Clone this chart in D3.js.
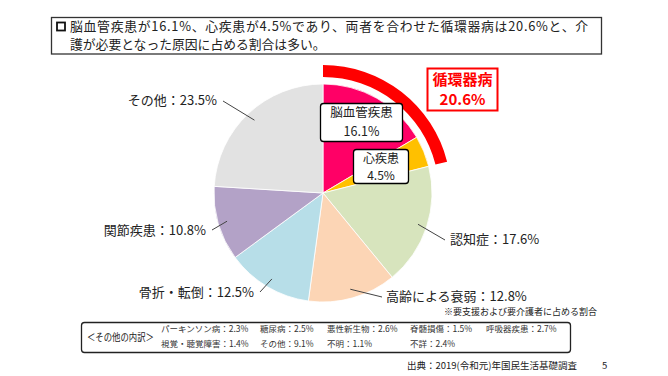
<!DOCTYPE html>
<html>
<head>
<meta charset="utf-8">
<script src="https://cdn.jsdelivr.net/npm/d3@7"></script>
<style>
  body { margin: 0; background: #fff; }
  svg { display: block; font-family: "Noto Sans CJK JP", "Noto Sans", sans-serif; }
</style>
</head>
<body>
<div id="chart"></div>
<script>
// data
var categories = ['脳血管疾患', '心疾患', '認知症', '高齢による衰弱', '骨折・転倒', '関節疾患', 'その他'];
var values = [16.1, 4.5, 17.6, 12.8, 12.5, 10.8, 23.5];
var colors = ['#FF0066', '#FFC000', '#D7E4BD', '#FCD5B5', '#B7DEE8', '#B3A2C7', '#E2E2E2'];
var groupName = '循環器病';
var groupValue = 20.6;
var groupMembers = 2; // first two slices
var otherNames = ['パーキンソン病', '糖尿病', '悪性新生物', '脊髄損傷', '呼吸器疾患', '視覚・聴覚障害', 'その他', '不明', '不詳'];
var otherValues = [2.3, 2.5, 2.6, 1.5, 2.7, 1.4, 9.1, 1.1, 2.4];

var w = 668, h = 376;
var cx = 323, cy = 193, r = 109;

var svg = d3.select('#chart').append('svg').attr('width', w).attr('height', h);

// header box
svg.append('rect').attr('x', 51.5).attr('y', 17.5).attr('width', 550).attr('height', 36.5)
  .attr('fill', '#fff').attr('stroke', '#333').attr('stroke-width', 1.3);
svg.append('rect').attr('x', 57).attr('y', 22.5).attr('width', 8).attr('height', 8)
  .attr('fill', 'none').attr('stroke', '#111').attr('stroke-width', 1.8);
var title = svg.append('text').attr('font-size', 12.8).attr('fill', '#222');
title.append('tspan').attr('x', 70).attr('y', 30.5)
  .attr('textLength', 518).attr('lengthAdjust', 'spacing')
  .text('脳血管疾患が' + values[0] + '%、心疾患が' + values[1] + '%であり、両者を合わせた' + groupName + 'は' + groupValue + '%と、介');
title.append('tspan').attr('x', 70).attr('y', 49)
  .text('護が必要となった原因に占める割合は多い。');

// pie
var pie = d3.pie().sort(null).value(function(d){ return d; });
var arcs = pie(values);
var arc = d3.arc().innerRadius(0).outerRadius(r);
var g = svg.append('g').attr('transform', 'translate(' + cx + ',' + cy + ')');

g.selectAll('path.slice').data(arcs).enter().append('path')
  .attr('class', 'slice')
  .attr('d', arc)
  .attr('fill', function(d, i){ return colors[i]; })
  .attr('stroke', '#fff').attr('stroke-width', 0.8);

// red arc over the circulatory group
var bandArc = d3.arc().innerRadius(r + 7).outerRadius(r + 19);
g.append('path')
  .attr('d', bandArc({ startAngle: arcs[0].startAngle, endAngle: arcs[groupMembers - 1].endAngle }))
  .attr('fill', '#FF0000');

// outside labels with leader lines
var labelPos = {
  2: { x: 450, y: 239, anchor: 'start', lx: 445, ly: 240 },
  3: { x: 386, y: 296, anchor: 'start', lx: 382, ly: 297 },
  4: { x: 254, y: 292, anchor: 'end', lx: 260, ly: 292 },
  5: { x: 206, y: 230, anchor: 'end', lx: 212, ly: 230 },
  6: { x: 217, y: 100, anchor: 'end', lx: 223, ly: 101 }
};
arcs.forEach(function(d, i){
  var p = labelPos[i];
  if (!p) return;
  var mid = (d.startAngle + d.endAngle) / 2;
  var sx = cx + Math.sin(mid) * 100, sy = cy - Math.cos(mid) * 100;
  svg.append('line').attr('x1', sx).attr('y1', sy).attr('x2', p.lx).attr('y2', p.ly)
    .attr('stroke', '#444').attr('stroke-width', 1);
  svg.append('text').attr('x', p.x).attr('y', p.y).attr('dy', '0.36em')
    .attr('text-anchor', p.anchor).attr('font-size', 13).attr('fill', '#222')
    .text(categories[i] + '：' + values[i] + '%');
});

// boxed labels for the two circulatory slices
function boxLabel(x, y, bw, bh, y1, y2, l1, l2, stroke, color, size, weight, sw){
  svg.append('rect').attr('x', x).attr('y', y).attr('width', bw).attr('height', bh)
    .attr('rx', stroke === '#000' ? 3 : 0)
    .attr('fill', '#fff').attr('stroke', stroke).attr('stroke-width', sw);
  var t = svg.append('text').attr('text-anchor', 'middle').attr('font-size', size)
    .attr('font-weight', weight).attr('fill', color);
  t.append('tspan').attr('x', x + bw / 2).attr('y', y1).attr('dy', '0.36em').text(l1);
  t.append('tspan').attr('x', x + bw / 2).attr('y', y2).attr('dy', '0.36em').text(l2);
}
boxLabel(320.5, 103.5, 82, 38, 112.5, 131, categories[0], values[0] + '%', '#000', '#222', 12.5, 'normal', 1.3);
boxLabel(353.5, 149.5, 55, 34, 158.5, 175.5, categories[1], values[1] + '%', '#000', '#222', 12, 'normal', 1.3);
boxLabel(427.5, 68.5, 70, 42, 80, 99.5, groupName, groupValue + '%', '#FF0000', '#FF0000', 15, 'bold', 2);

// note
svg.append('text').attr('x', 597).attr('y', 312).attr('dy', '0.36em').attr('text-anchor', 'end')
  .attr('font-size', 9).attr('fill', '#222').text('※要支援および要介護者に占める割合');

// breakdown box
svg.append('rect').attr('x', 81.5).attr('y', 322.5).attr('width', 489).attr('height', 30).attr('rx', 3)
  .attr('fill', '#fff').attr('stroke', '#222').attr('stroke-width', 1.3);
svg.append('text').attr('x', 87).attr('y', 337).attr('dy', '0.36em')
  .attr('font-size', 10).attr('fill', '#222')
  .attr('textLength', 67).attr('lengthAdjust', 'spacingAndGlyphs')
  .text('＜その他の内訳＞');
var colX = [161, 260, 327, 410, 486];
otherNames.forEach(function(n, i){
  var row = i < 5 ? 0 : 1;
  var col = i < 5 ? i : i - 5;
  svg.append('text').attr('x', colX[col]).attr('y', row ? 344 : 329).attr('dy', '0.36em')
    .attr('font-size', 8.5).attr('fill', '#333').text(n + '：' + otherValues[i] + '%');
});

// source
svg.append('text').attr('x', 577).attr('y', 366).attr('dy', '0.36em').attr('text-anchor', 'end')
  .attr('font-size', 9.5).attr('fill', '#222').text('出典：2019(令和元)年国民生活基礎調査');
svg.append('text').attr('x', 602).attr('y', 366).attr('dy', '0.36em')
  .attr('font-size', 9.5).attr('fill', '#222').text('5');
</script>
</body>
</html>
